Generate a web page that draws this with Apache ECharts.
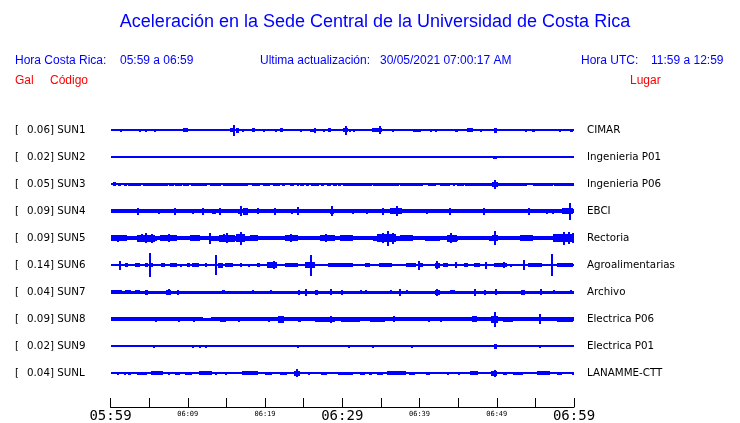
<!DOCTYPE html>
<html><head><meta charset="utf-8">
<script src="https://cdn.jsdelivr.net/npm/echarts/dist/echarts.min.js"></script>
<style>html,body{margin:0;padding:0;background:#fff}#c{width:740px;height:423px}</style>
</head><body><div id="c"></div>
<script>
// ---------- data ----------
const stations = ['SUN1','SUN2','SUN3','SUN4','SUN5','SUN6','SUN7','SUN8','SUN9','SUNL'];
const galValues = [0.06,0.02,0.05,0.09,0.09,0.14,0.04,0.09,0.02,0.04];
const places = ['CIMAR','Ingenieria P01','Ingenieria P06','EBCI','Rectoria','Agroalimentarias','Archivo','Electrica P06','Electrica P01','LANAMME-CTT'];
const tickLabels = ['05:59','06:04','06:09','06:14','06:19','06:24','06:29','06:34','06:39','06:44','06:49','06:54','06:59'];
const majorTicks = ['05:59','06:29','06:59'];
const minorLabelTicks = ['06:09','06:19','06:39','06:49'];

// background envelope (half amplitude) per minute
const env_SUN1 = [0.6,0.6,0.6,0.6,0.6,0.6,0.6,0.6,0.6,0.6, 0.6,0.6,0.6,0.6,0.6,0.6,0.6,0.6,0.6,0.6, 0.6,0.6,0.6,0.6,0.6,0.6,0.6,0.6,0.6,0.6, 0.6,0.6,0.6,0.6,0.6,0.6,0.6,0.6,0.6,0.6, 0.6,0.6,0.6,0.6,0.6,0.6,0.6,0.6,0.6,0.6, 0.6,0.6,0.6,0.6,0.6,0.6,0.6,0.6,0.6,0.6];
const env_SUN2 = [0.6,0.6,0.6,0.6,0.6,0.6,0.6,0.6,0.6,0.6, 0.6,0.6,0.6,0.6,0.6,0.6,0.6,0.6,0.6,0.6, 0.6,0.6,0.6,0.6,0.6,0.6,0.6,0.6,0.6,0.6, 0.6,0.6,0.6,0.6,0.6,0.6,0.6,0.6,0.6,0.6, 0.6,0.6,0.6,0.6,0.6,0.6,0.6,0.6,0.6,0.6, 0.6,0.6,0.6,0.6,0.6,0.6,0.6,0.6,0.6,0.6];
const env_SUN3 = [0.6,0.6,0.6,0.6,0.6,0.6,0.6,0.6,0.6,0.6, 0.6,0.6,0.6,0.6,0.6,0.6,0.6,0.6,0.6,0.6, 0.6,0.6,0.6,0.6,0.6,0.6,0.6,0.6,0.6,0.6, 0.6,0.6,0.6,0.6,0.6,0.6,0.6,0.6,0.6,0.6, 0.6,0.6,0.6,0.6,0.6,0.6,0.6,0.6,0.6,0.6, 0.6,0.6,0.6,0.6,0.6,0.6,0.6,0.6,0.6,0.6];
const env_SUN4 = [1.8,1.8,1.9,1.9,1.8,1.9,1.9,1.8,1.9,1.9, 1.9,2.0,1.9,2.0,2.0,1.9,2.1,2.0,2.0,1.9, 2.0,2.0,1.9,2.0,2.0,1.9,1.9,2.0,2.0,1.9, 1.9,2.0,1.9,2.0,2.0,2.0,2.1,2.1,2.0,1.9, 1.9,2.0,1.9,1.9,2.0,1.9,1.9,1.9,2.0,2.0, 1.9,1.9,1.9,1.9,2.0,1.9,2.0,2.0,2.1,2.2];
const env_SUN5 = [2.2,2.2,2.0,2.2,2.4,2.4,2.2,2.3,2.2,2.0, 2.2,2.2,2.0,2.3,2.4,2.4,2.5,2.4,2.2,2.1, 2.0,2.0,2.1,2.3,2.2,2.0,2.0,2.2,2.3,2.2, 2.2,2.1,2.0,2.0,2.4,2.5,2.5,2.3,2.2,2.1, 2.1,2.2,2.1,2.2,2.3,2.0,2.0,2.0,2.1,2.3, 2.1,2.0,2.0,2.1,2.2,2.0,2.0,2.2,2.4,2.4];
const env_SUN6 = [0.6,0.6,0.6,0.6,0.6,0.6,0.6,0.6,0.6,0.6, 0.6,0.6,0.6,0.6,0.6,0.6,0.6,0.6,0.6,0.6, 0.6,0.6,0.6,0.6,0.6,0.6,0.6,0.6,0.6,0.6, 0.6,0.6,0.6,0.6,0.6,0.6,0.6,0.6,0.6,0.6, 0.6,0.6,0.6,0.6,0.6,0.6,0.6,0.6,0.6,0.6, 0.6,0.6,0.6,0.6,0.6,0.6,0.6,0.6,0.6,0.6];
const env_SUN7 = [1.4,1.5,1.5,1.5,1.5,1.6,1.5,1.6,1.6,1.5, 1.5,1.5,1.4,1.5,1.5,1.5,1.4,1.5,1.5,1.5, 1.5,1.5,1.5,1.5,1.5,1.6,1.5,1.5,1.5,1.5, 1.5,1.5,1.5,1.5,1.5,1.5,1.5,1.6,1.5,1.5, 1.5,1.5,1.5,1.5,1.5,1.5,1.5,1.5,1.5,1.5, 1.5,1.5,1.5,1.5,1.5,1.5,1.5,1.5,1.5,1.5];
const env_SUN8 = [1.9,1.9,1.9,1.8,1.8,1.8,1.8,1.8,1.8,1.8, 1.8,1.8,1.7,1.8,1.9,1.9,1.8,1.8,1.8,1.8, 1.8,1.8,1.9,1.8,1.8,1.8,1.8,1.9,2.0,1.9, 1.9,1.9,1.8,1.9,1.9,1.9,1.8,1.8,1.8,1.8, 1.8,1.8,1.8,1.8,1.8,1.8,1.8,1.9,1.8,1.9, 1.9,1.9,1.8,1.8,1.8,1.9,1.8,1.9,1.9,1.9];
const env_SUN9 = [0.6,0.6,0.6,0.6,0.6,0.6,0.6,0.6,0.6,0.6, 0.6,0.6,0.6,0.6,0.6,0.6,0.6,0.6,0.6,0.6, 0.6,0.6,0.6,0.6,0.6,0.6,0.6,0.6,0.6,0.6, 0.6,0.6,0.6,0.6,0.6,0.6,0.6,0.6,0.6,0.6, 0.6,0.6,0.6,0.6,0.6,0.6,0.6,0.6,0.6,0.6, 0.6,0.6,0.6,0.6,0.6,0.6,0.6,0.6,0.6,0.6];
const env_SUNL = [0.6,0.6,0.6,0.6,0.6,0.6,0.6,0.6,0.6,0.6, 0.6,0.6,0.6,0.6,0.6,0.6,0.6,0.6,0.6,0.6, 0.6,0.6,0.6,0.6,0.6,0.6,0.6,0.6,0.6,0.6, 0.6,0.6,0.6,0.6,0.6,0.6,0.6,0.6,0.6,0.6, 0.6,0.6,0.6,0.6,0.6,0.6,0.6,0.6,0.6,0.6, 0.6,0.6,0.6,0.6,0.6,0.6,0.6,0.6,0.6,0.6];

// bursts: [start minute, half amplitude, duration in minutes]
const bursts_SUN1 = [[1.2,1.3,0.15],[2.0,1.2,0.15],[2.8,1.2,0.15],[3.7,1.3,0.15],[4.5,1.3,0.15],[4.9,1.2,0.15],[5.6,1.3,0.15],[7.2,1.2,0.15],[9.4,2,0.6],[12.1,1.2,0.15],[14.2,1.2,0.15],[14.8,1.2,0.15],[15.5,2,0.5],[15.8,5.3,0.2],[16.3,2.5,0.3],[17.0,1.5,0.15],[18.3,2,0.4],[19.8,1.3,0.15],[21.3,1.5,0.2],[22.0,2,0.3],[24.5,1.3,0.15],[25.8,1.5,0.7],[26.3,2.5,0.2],[27.5,1.3,0.15],[28.1,2,0.4],[30.1,2,0.6],[30.4,4.7,0.2],[30.9,1.5,0.15],[31.4,1.7,0.2],[32.2,1.2,0.15],[33.8,2.2,1.4],[34.8,4.2,0.2],[36.5,1.3,0.2],[39.2,1.7,1.0],[41.4,1.3,0.15],[42.0,1.3,0.15],[44.6,1.5,0.4],[46.1,2,0.8],[47.8,1.3,0.15],[48.5,1.2,0.15],[49.6,2.5,0.4],[53.7,1.3,0.15],[54.5,1.7,0.5],[58.0,1.3,0.15],[59.5,1.7,0.4]];
const bursts_SUN2 = [[49.5,1.7,0.5]];
const bursts_SUN3 = [[0.3,1.8,0.4],[1.0,1.6,0.3],[1.75,1.6,0.35],[2.3,1.6,1.7],[4.25,1.6,3.25],[7.6,1.6,0.6],[8.3,1.6,0.9],[9.4,1.6,0.8],[10.4,1.6,2.1],[12.9,1.6,1.4],[14.5,1.6,3.3],[18.3,1.6,1.1],[19.7,1.6,1.0],[21.0,1.6,0.9],[22.2,1.6,0.4],[23.2,1.6,0.5],[24.1,1.6,0.3],[24.5,1.6,0.5],[25.3,1.6,0.4],[26.0,1.6,1.0],[27.3,1.6,0.3],[28.0,1.6,0.5],[28.8,1.6,0.5],[29.5,1.6,0.3],[30.1,1.6,0.6],[30.8,1.6,3.0],[34.0,1.6,3.3],[37.5,1.6,3.0],[41.1,1.6,1.1],[42.7,1.6,1.2],[44.4,1.6,0.2],[44.8,1.6,0.9],[45.9,1.6,2.8],[48.8,1.6,0.7],[49.4,2.4,0.7],[49.6,4.5,0.2],[50.0,1.6,3.9],[54.7,1.6,2.6],[57.4,1.6,2.6]];
const bursts_SUN4 = [[3.4,3.5,0.25],[6.1,2.5,0.2],[8.2,3.5,0.25],[10.6,2.5,0.2],[11.9,3.3,0.2],[13.1,2.5,0.6],[14.0,3.5,0.2],[16.5,2.6,0.5],[16.7,5,0.2],[17.2,3.3,0.6],[18.9,3,0.3],[21.2,3.3,0.2],[23.4,2.5,0.2],[24.2,4,0.2],[28.4,2.6,0.5],[28.6,4.8,0.2],[31.3,2.5,0.2],[33.1,2.5,0.2],[35.2,3.7,0.2],[36.2,3.2,1.5],[36.9,4.8,0.2],[40.8,2.3,0.2],[43.8,3.5,0.2],[48.2,3.5,0.2],[54.0,3.5,0.2],[56.4,2.3,0.2],[57.2,2.3,0.2],[58.4,3,1.5],[59.4,8.3,0.2]];
const bursts_SUN5 = [[0.0,2.8,2.1],[0.9,3.5,0.2],[3.4,3.3,2.4],[4.5,5,0.2],[5.2,4.5,0.2],[3.9,4.2,0.2],[6.4,3.0,2.2],[7.5,4.2,0.2],[10.3,2.8,1.3],[12.8,5.3,0.2],[14.0,3.3,2.1],[15.0,4.8,0.2],[14.5,4.0,0.2],[16.3,3.8,1.1],[16.8,6.3,0.2],[18.1,3.0,1.0],[22.6,3.0,1.7],[23.3,3.8,0.2],[27.1,3.0,1.9],[27.8,4.2,0.2],[29.7,2.8,1.7],[34.5,3.8,2.5],[35.8,7.3,0.2],[36.5,5.5,0.2],[35.1,4.8,0.2],[37.5,3.0,1.7],[40.7,2.6,1.9],[43.5,3.4,1.3],[43.9,4.8,0.2],[49.4,3.2,0.8],[49.7,6.8,0.2],[53.0,2.8,1.7],[57.3,3.8,2.6],[58.6,6.5,0.2],[59.2,5.8,0.2],[59.8,5,0.2]];
const bursts_SUN6 = [[1.1,4.3,0.2],[1.9,2,0.4],[3.2,2,0.6],[4.5,2,0.3],[5.0,12,0.2],[5.2,2,0.2],[6.5,2,0.6],[7.7,2,0.9],[9.0,1.5,0.2],[9.9,2,0.4],[10.6,2,0.8],[12.2,2,0.2],[13.5,10,0.2],[13.9,2.5,0.6],[14.8,2,1.1],[16.8,2,0.2],[17.8,1.5,0.2],[18.9,2,0.5],[20.2,3,1.3],[21.1,4,0.2],[22.6,2,1.7],[25.2,3,1.3],[25.8,10.5,0.2],[28.2,2,2.2],[30.4,2,1.0],[32.9,2,0.7],[34.7,2,1.7],[38.3,2,1.3],[39.8,4.3,0.2],[40.1,2,0.4],[42.0,2.5,0.6],[42.2,4,0.2],[43.1,2,0.6],[44.6,3,0.2],[45.7,2,0.6],[47.0,2,0.8],[48.5,3.5,0.2],[49.6,2,1.7],[50.8,3,0.2],[51.7,1.5,0.2],[53.4,5,0.2],[54.1,2,1.7],[57.0,11,0.2],[57.8,2,2.1]];
const bursts_SUN7 = [[0.0,1.9,1.5],[1.9,2.2,0.8],[3.2,1.9,0.6],[4.5,2.5,0.4],[7.2,2.4,0.6],[7.5,3,0.2],[8.6,2.5,0.2],[14.4,2.2,0.4],[18.3,2.2,0.2],[20.6,2.2,0.2],[24.3,2.5,0.2],[25.2,3.5,0.2],[26.5,2.5,0.4],[28.4,3,0.2],[29.9,2.5,0.2],[32.3,2.2,0.2],[32.9,2.2,0.2],[36.2,2.2,0.2],[37.4,3.5,0.2],[38.3,2.2,0.2],[42.0,2.5,0.6],[42.2,3.5,0.2],[43.9,2.2,0.7],[47.1,3.5,0.2],[48.3,2.5,0.2],[49.8,3,0.2],[53.2,2.5,0.5],[55.6,3,0.2],[57.3,2.2,0.2],[59.5,2.0,0.2]];
const bursts_SUN8 = [[5.8,2.5,0.2],[8.8,2.5,0.2],[10.7,2.5,0.2],[14.2,2.7,0.8],[16.5,2.3,0.2],[20.4,2.5,0.2],[21.7,3.3,0.7],[24.3,2.5,0.4],[26.5,2.7,2.6],[28.4,3.3,0.2],[29.9,2.5,2.4],[33.6,2.7,1.9],[36.6,3,0.2],[41.1,2.3,0.2],[42.7,2.3,0.2],[46.8,3,0.6],[49.3,3.5,0.8],[49.7,7.5,0.2],[50.8,2.5,1.3],[55.5,5,0.2],[57.8,2.5,2.1]];
const bursts_SUN9 = [[5.5,1.5,0.2],[10.3,1.2,0.2],[10.6,1.5,0.2],[11.5,1.3,0.2],[12.2,1.3,0.2],[24.2,1.5,0.2],[30.8,1.3,0.2],[33.9,1.3,0.2],[38.9,1.3,0.2],[49.6,2.3,0.4],[53.6,1.2,0.2],[55.5,1.3,0.2]];
const bursts_SUNL = [[0.8,1.5,0.2],[1.7,1.7,0.2],[2.3,1.7,0.4],[3.4,1.7,1.3],[5.3,1.8,1.5],[7.5,1.7,0.2],[8.3,1.7,0.7],[9.6,1.7,0.9],[11.4,1.8,1.7],[13.5,1.5,0.2],[14.8,1.5,0.2],[17.0,1.8,2.1],[20.0,1.7,0.9],[21.9,1.7,0.9],[23.7,2.5,0.8],[24.0,4,0.2],[25.6,1.5,0.2],[27.3,1.7,0.7],[29.5,1.5,0.2],[29.7,1.7,1.7],[32.3,1.7,0.6],[33.4,1.7,0.4],[34.5,1.7,0.8],[35.8,1.8,2.5],[38.6,1.7,0.8],[40.9,1.7,0.5],[43.5,1.3,0.2],[45.0,1.3,0.2],[46.5,2,1.1],[49.3,2.3,0.7],[49.6,3.3,0.2],[50.8,1.7,0.5],[52.1,1.7,1.3],[55.2,2,1.7],[57.8,1.7,0.6],[59.7,1.5,0.2]];

const envs = [env_SUN1,env_SUN2,env_SUN3,env_SUN4,env_SUN5,env_SUN6,env_SUN7,env_SUN8,env_SUN9,env_SUNL];
const bursts = [bursts_SUN1,bursts_SUN2,bursts_SUN3,bursts_SUN4,bursts_SUN5,bursts_SUN6,bursts_SUN7,bursts_SUN8,bursts_SUN9,bursts_SUNL];

// ---------- layout ----------
const BLUE = '#0000ff', RED = '#ff0000';
const plotLeft = 110.5, plotWidth = 463.5;
const rowY0 = 130, rowGap = 27;

function renderSeg(params, api) {
  const t = api.value(0), a = api.value(1), d = api.value(2);
  const p0 = api.coord([t, a]);
  const p1 = api.coord([t + d, -a]);
  const x0 = Math.round(p0[0]);
  let x1 = Math.round(p1[0]);
  if (x1 - x0 < 2) x1 = x0 + 2;
  const cy = (p0[1] + p1[1]) / 2;
  const h = Math.max(Math.round(p1[1] - p0[1]), 2);
  const y0 = Math.round(cy - h / 2);
  return { type: 'rect', shape: { x: x0, y: y0, width: x1 - x0, height: h }, style: { fill: BLUE } };
}

const grids = [], xAxes = [], yAxes = [], series = [];
const graphics = [];
const labelFont = '10.3px "DejaVu Sans"';
stations.forEach((s, i) => {
  const cy = rowY0 + rowGap * i;
  grids.push({ left: plotLeft, width: plotWidth, top: cy - 13.5, height: 27 });
  xAxes.push({ gridIndex: i, type: 'value', min: 0, max: 60, show: false });
  yAxes.push({ gridIndex: i, type: 'value', min: -13.5, max: 13.5, show: false });
  const data = envs[i].map((a, k) => [k, a, 1]).concat(bursts[i]);
  series.push({ type: 'custom', xAxisIndex: i, yAxisIndex: i, data: data, renderItem: renderSeg, clip: false, silent: true, animation: false });
  graphics.push({ type: 'text', x: 15, y: cy + 0.5, style: { text: '[', font: labelFont, fill: '#000', verticalAlign: 'middle' } });
  graphics.push({ type: 'text', x: 27, y: cy + 0.5, style: { text: galValues[i].toFixed(2) + '] ' + s, font: labelFont, fill: '#000', verticalAlign: 'middle' } });
  graphics.push({ type: 'text', x: 587, y: cy + 0.5, style: { text: places[i], font: labelFont, fill: '#000', verticalAlign: 'middle' } });
});

// bottom time axis
const axisIdx = stations.length;
grids.push({ left: plotLeft, width: plotWidth, top: 399, height: 10 });
xAxes.push({
  gridIndex: axisIdx, type: 'value', min: 0, max: 60, interval: 5,
  axisLine: { show: true, lineStyle: { color: '#000', width: 1 } },
  axisTick: { show: true, inside: true, length: 9, lineStyle: { color: '#000', width: 1 } },
  splitLine: { show: false },
  axisLabel: {
    show: true, margin: 2, showMinLabel: true, showMaxLabel: true, hideOverlap: false,
    formatter: function (v) {
      const lab = tickLabels[Math.round(v / 5)];
      if (majorTicks.indexOf(lab) >= 0) return '{big|' + lab + '}';
      if (minorLabelTicks.indexOf(lab) >= 0) return '{small|' + lab + '}';
      return '';
    },
    rich: {
      big: { fontFamily: 'DejaVu Sans Mono', fontSize: 14, color: '#000', lineHeight: 14 },
      small: { fontFamily: 'DejaVu Sans Mono', fontSize: 7, color: '#000', lineHeight: 11 }
    }
  }
});
yAxes.push({ gridIndex: axisIdx, type: 'value', show: false });

// header texts
const hdrFont = '12px "Liberation Sans"';
graphics.push(
  { type: 'text', x: 375, y: 22, style: { text: 'Aceleración en la Sede Central de la Universidad de Costa Rica', font: '18px "Liberation Sans"', fill: BLUE, align: 'center', verticalAlign: 'middle' } },
  { type: 'text', x: 15, y: 61, style: { text: 'Hora Costa Rica:', font: hdrFont, fill: BLUE, verticalAlign: 'middle' } },
  { type: 'text', x: 120, y: 61, style: { text: '05:59 a 06:59', font: hdrFont, fill: BLUE, verticalAlign: 'middle' } },
  { type: 'text', x: 260, y: 61, style: { text: 'Ultima actualización:', font: hdrFont, fill: BLUE, verticalAlign: 'middle' } },
  { type: 'text', x: 380, y: 61, style: { text: '30/05/2021 07:00:17 AM', font: hdrFont, fill: BLUE, verticalAlign: 'middle' } },
  { type: 'text', x: 581, y: 61, style: { text: 'Hora UTC:', font: hdrFont, fill: BLUE, verticalAlign: 'middle' } },
  { type: 'text', x: 651, y: 61, style: { text: '11:59 a 12:59', font: hdrFont, fill: BLUE, verticalAlign: 'middle' } },
  { type: 'text', x: 15, y: 81, style: { text: 'Gal', font: hdrFont, fill: RED, verticalAlign: 'middle' } },
  { type: 'text', x: 50, y: 81, style: { text: 'Código', font: hdrFont, fill: RED, verticalAlign: 'middle' } },
  { type: 'text', x: 630, y: 81, style: { text: 'Lugar', font: hdrFont, fill: RED, verticalAlign: 'middle' } }
);

const chart = echarts.init(document.getElementById('c'), null, { renderer: 'canvas' });
chart.setOption({
  animation: false,
  backgroundColor: '#fff',
  grid: grids, xAxis: xAxes, yAxis: yAxes, series: series,
  graphic: graphics
});
</script></body></html>
